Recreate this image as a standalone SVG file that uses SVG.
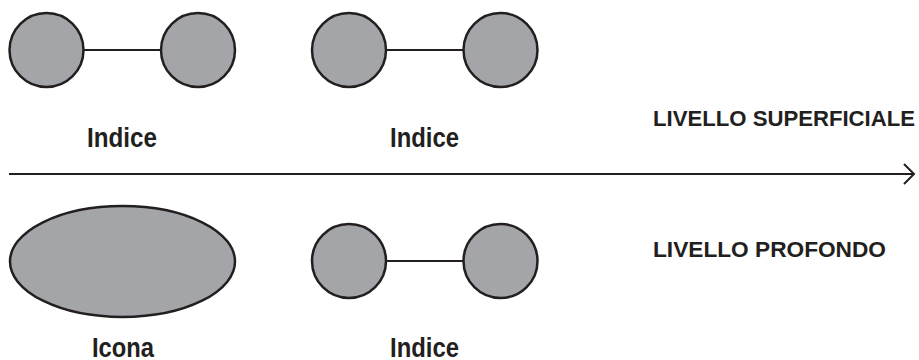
<svg xmlns="http://www.w3.org/2000/svg" width="919" height="360" viewBox="0 0 919 360">
<style>
.n{fill:#a4a5a8;stroke:#231f20;stroke-width:2.5}
.c{stroke:#231f20;stroke-width:2;fill:none}
.t{font-family:"Liberation Sans",Arial,sans-serif;font-weight:bold;fill:#231f20}
.lbl{font-size:27px}
.lv{font-size:22.5px}
</style>
<rect width="919" height="360" fill="#fff"/>
<g id="connectors">
<line class="c" x1="83" y1="50" x2="161" y2="50"/>
<line class="c" x1="386" y1="50" x2="463" y2="50"/>
<line class="c" x1="386" y1="261" x2="463" y2="261"/>
<line class="c" x1="9" y1="174" x2="914" y2="174" stroke-width="2.5"/>
<polyline class="c" points="904,164 914,174 904,184" stroke-width="2.5"/>
</g>
<g id="n1"><circle class="n" cx="46.5" cy="50" r="37"/></g>
<g id="n2"><circle class="n" cx="198" cy="50" r="37"/></g>
<g id="n3"><circle class="n" cx="349" cy="50" r="37"/></g>
<g id="n4"><circle class="n" cx="500.5" cy="50" r="37"/></g>
<g id="n5"><ellipse class="n" cx="122.5" cy="261.5" rx="112.5" ry="55.5"/></g>
<g id="n6"><circle class="n" cx="349" cy="261" r="37"/></g>
<g id="n7"><circle class="n" cx="500.5" cy="261" r="37"/></g>
<g id="labels">
<text class="t lbl" x="87" y="147" textLength="70" lengthAdjust="spacingAndGlyphs">Indice</text>
<text class="t lbl" x="390" y="147" textLength="69" lengthAdjust="spacingAndGlyphs">Indice</text>
<text class="t lbl" x="92" y="357" textLength="62" lengthAdjust="spacingAndGlyphs">Icona</text>
<text class="t lbl" x="390" y="357" textLength="69" lengthAdjust="spacingAndGlyphs">Indice</text>
<text class="t lv" x="653" y="126" textLength="262" lengthAdjust="spacingAndGlyphs">LIVELLO SUPERFICIALE</text>
<text class="t lv" x="653" y="257" textLength="233" lengthAdjust="spacingAndGlyphs">LIVELLO PROFONDO</text>
</g>
</svg>
